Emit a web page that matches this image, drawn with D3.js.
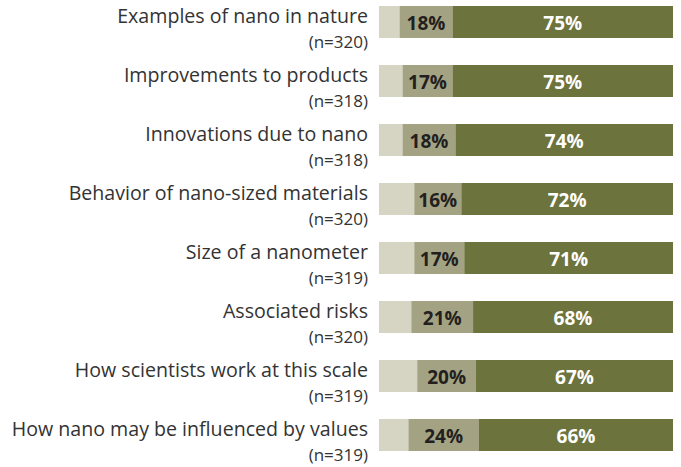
<!DOCTYPE html>
<html lang="en">
<head>
    <meta charset="UTF-8">
    <title>Nano topics</title>
    <script src="https://d3js.org/d3.v7.min.js"></script>
    <style>
        body { margin: 0; background: #fff; }
        text { font-family: "Open Sans", sans-serif; }
    </style>
</head>
<body>
    <div id="chart"></div>
    <script>
        // data
        const topics = [
            "Examples of nano in nature",
            "Improvements to products",
            "Innovations due to nano",
            "Behavior of nano-sized materials",
            "Size of a nanometer",
            "Associated risks",
            "How scientists work at this scale",
            "How nano may be influenced by values"
        ];
        const sampleSizes = [320, 318, 318, 320, 319, 320, 319, 319];
        const somewhat = [18, 17, 18, 16, 17, 21, 20, 24];
        const very = [75, 75, 74, 72, 71, 68, 67, 66];

        const width = 681, height = 467;
        const colors = { rest: "#d6d5c4", mid: "#a3a383", dark: "#6c733c" };

        const svg = d3.select("#chart").append("svg")
            .attr("width", width)
            .attr("height", height);

        const x = d3.scaleLinear().domain([0, 100]).range([379, 673]);
        const y = d3.scaleBand().domain(topics).range([6, 451]).paddingInner(27 / 59);

        const rows = topics.map((t, i) => ({
            topic: t,
            n: sampleSizes[i],
            mid: somewhat[i],
            dark: very[i],
            rest: 100 - somewhat[i] - very[i]
        }));

        const row = svg.selectAll("g.row")
            .data(rows)
            .join("g")
            .attr("class", "row")
            .attr("transform", d => `translate(0,${y(d.topic)})`);

        // light remainder
        row.append("rect")
            .attr("x", x(0))
            .attr("width", d => x(d.rest) - x(0))
            .attr("height", y.bandwidth())
            .attr("fill", colors.rest);

        // middle segment
        row.append("rect")
            .attr("x", d => x(d.rest))
            .attr("width", d => x(d.rest + d.mid) - x(d.rest))
            .attr("height", y.bandwidth())
            .attr("fill", colors.mid);

        // dark segment
        row.append("rect")
            .attr("x", d => x(d.rest + d.mid))
            .attr("width", d => x(100) - x(d.rest + d.mid))
            .attr("height", y.bandwidth())
            .attr("fill", colors.dark);

        row.append("text")
            .attr("x", d => x(d.rest + d.mid / 2))
            .attr("y", 24)
            .attr("text-anchor", "middle")
            .style("font-size", "19px")
            .style("font-weight", "bold")
            .style("fill", "#231f20")
            .text(d => d.mid + "%");

        row.append("text")
            .attr("x", d => x(d.rest + d.mid + d.dark / 2))
            .attr("y", 24)
            .attr("text-anchor", "middle")
            .style("font-size", "19px")
            .style("font-weight", "bold")
            .style("fill", "#fff")
            .text(d => d.dark + "%");

        // labels on the left
        row.append("text")
            .attr("x", 368)
            .attr("y", 17)
            .attr("text-anchor", "end")
            .style("font-size", "19.6px")
            .style("fill", "#333")
            .text(d => d.topic);

        row.append("text")
            .attr("x", 368)
            .attr("y", 42)
            .attr("text-anchor", "end")
            .style("font-size", "17px")
            .style("fill", "#333")
            .text(d => `(n=${d.n})`);
    </script>
</body>
</html>
